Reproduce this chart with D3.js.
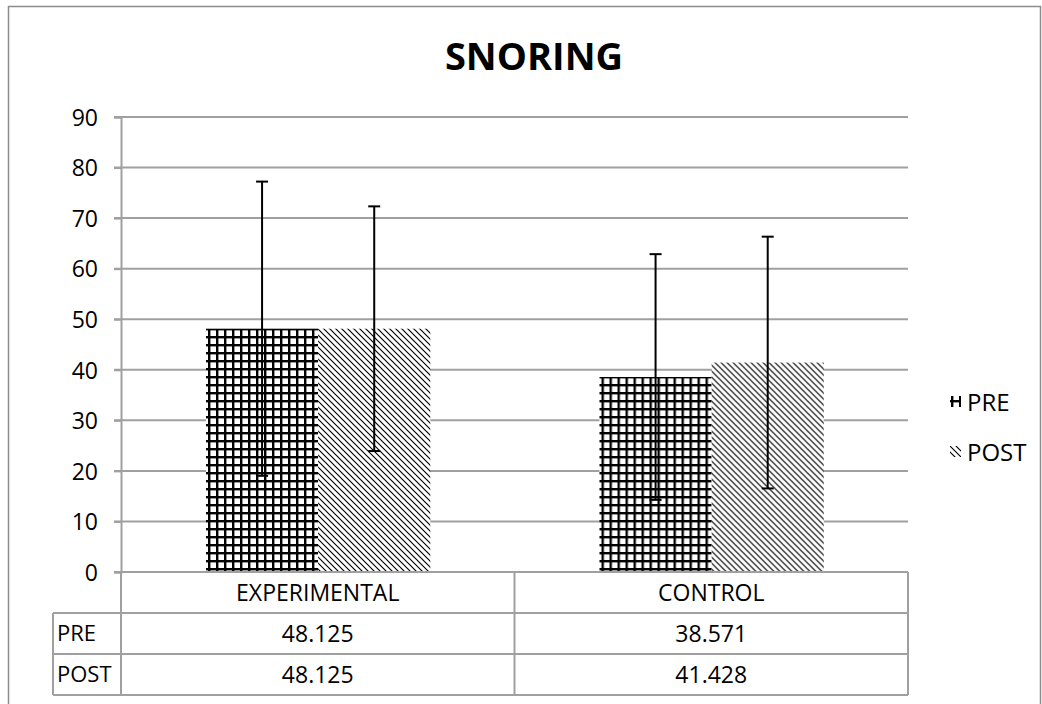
<!DOCTYPE html>
<html>
<head>
<meta charset="utf-8">
<script src="https://cdn.jsdelivr.net/npm/d3@7"></script>
<style>
  html, body { margin: 0; padding: 0; background: #fff; }
  svg { display: block; }
  text { font-family: "Open Sans", "Noto Sans", sans-serif; fill: #000; }
</style>
</head>
<body>
<div id="chart"></div>
<script>
// ---- data ----
const title = "SNORING";
const categories = ["EXPERIMENTAL", "CONTROL"];
const seriesNames = ["PRE", "POST"];
const preValues = [48.125, 38.571];
const postValues = [48.125, 41.428];
const preErrors = [29.1, 24.3];
const postErrors = [24.2, 24.9];
const yTicks = [0, 10, 20, 30, 40, 50, 60, 70, 80, 90];

const seriesValues = [preValues, postValues];
const seriesErrors = [preErrors, postErrors];

// ---- layout ----
const W = 1042, H = 704;
const plot = { left: 121, right: 908, top: 117, bottom: 572 };
const rowH = 41;

const svg = d3.select("#chart").append("svg").attr("width", W).attr("height", H);
const defs = svg.append("defs");

// grid pattern (PRE)
const pGrid = defs.append("pattern").attr("id", "pGrid")
  .attr("patternUnits", "userSpaceOnUse").attr("width", 8).attr("height", 8)
  .attr("x", 207).attr("y", 0);
pGrid.append("rect").attr("width", 8).attr("height", 8).attr("fill", "#fff");
pGrid.append("rect").attr("x", 0).attr("y", 0).attr("width", 2.4).attr("height", 8).attr("fill", "#000");
pGrid.append("rect").attr("x", 0).attr("y", 0).attr("width", 8).attr("height", 2.4).attr("fill", "#000");

// diagonal pattern (POST)
const pDiag = defs.append("pattern").attr("id", "pDiag")
  .attr("patternUnits", "userSpaceOnUse").attr("width", 6).attr("height", 6);
pDiag.append("rect").attr("width", 6).attr("height", 6).attr("fill", "#fff");
pDiag.append("path").attr("d", "M0,0 L6,6 M-1,5 L1,7 M5,-1 L7,1")
  .attr("stroke", "#000").attr("stroke-width", 1.15).attr("fill", "none");

// outer border
svg.append("rect").attr("x", 8.5).attr("y", 6.5).attr("width", 1032).attr("height", 720)
  .attr("fill", "none").attr("stroke", "#8c8c8c").attr("stroke-width", 1.5);

// title
svg.append("text").attr("x", 534).attr("y", 70).attr("text-anchor", "middle")
  .attr("font-size", 38).attr("font-weight", "bold").text(title);

// scales
const y = d3.scaleLinear().domain([0, 90]).range([plot.bottom, plot.top]);
const x0 = d3.scaleBand().domain(categories).range([plot.left, plot.right]).padding(0);
const x1 = d3.scaleBand().domain(seriesNames)
  .range([x0.bandwidth() * 0.216, x0.bandwidth() * 0.786]).padding(0);

// gridlines
svg.append("g").selectAll("line").data(yTicks.filter(d => d > 0)).join("line")
  .attr("x1", plot.left - 7).attr("x2", plot.right)
  .attr("y1", d => y(d)).attr("y2", d => y(d))
  .attr("stroke", "#a0a0a0").attr("stroke-width", 2);

// y axis
const yAxis = svg.append("g").attr("transform", `translate(${plot.left},0)`)
  .call(d3.axisLeft(y).tickValues(yTicks).tickSize(7).tickPadding(16));
yAxis.select(".domain").attr("stroke", "#a0a0a0").attr("stroke-width", 2);
yAxis.selectAll(".tick line").attr("stroke", "#a0a0a0").attr("stroke-width", 2);
yAxis.selectAll(".tick text").attr("font-size", 23).attr("font-family", "Open Sans, sans-serif")
  .attr("fill", "#000").attr("dy", "0.36em");

// bars
const groups = svg.append("g").selectAll("g").data(categories).join("g")
  .attr("transform", d => `translate(${x0(d)},0)`);
const barData = (c, ci) => seriesNames.map((s, si) => ({ s, si, v: seriesValues[si][ci], e: seriesErrors[si][ci] }));
groups.selectAll("rect").data((c, ci) => barData(c, ci)).join("rect")
  .attr("x", d => x1(d.s)).attr("width", x1.bandwidth())
  .attr("y", d => y(d.v)).attr("height", d => y(0) - y(d.v))
  .attr("fill", d => d.si === 0 ? "url(#pGrid)" : "url(#pDiag)");

// x axis baseline
svg.append("line").attr("x1", plot.left - 7).attr("x2", plot.right)
  .attr("y1", y(0)).attr("y2", y(0)).attr("stroke", "#a0a0a0").attr("stroke-width", 2);

// error bars
const eb = groups.selectAll("g.err").data((c, ci) => barData(c, ci)).join("g").attr("class", "err");
eb.append("line")
  .attr("x1", d => x1(d.s) + x1.bandwidth() / 2).attr("x2", d => x1(d.s) + x1.bandwidth() / 2)
  .attr("y1", d => y(d.v + d.e)).attr("y2", d => y(d.v - d.e))
  .attr("stroke", "#000").attr("stroke-width", 2);
[1, -1].forEach(sign => {
  eb.append("line")
    .attr("x1", d => x1(d.s) + x1.bandwidth() / 2 - 6).attr("x2", d => x1(d.s) + x1.bandwidth() / 2 + 6)
    .attr("y1", d => y(d.v + sign * d.e)).attr("y2", d => y(d.v + sign * d.e))
    .attr("stroke", "#000").attr("stroke-width", 2);
});

// data table
const tbl = svg.append("g");
const tableLeft = 53;
const tStroke = "#a0a0a0";
const rowTop0 = plot.bottom;
// category row
tbl.selectAll("text.cat").data(categories).join("text").attr("class", "cat")
  .attr("x", d => x0(d) + x0.bandwidth() / 2).attr("y", rowTop0 + rowH / 2)
  .attr("dy", "0.36em").attr("text-anchor", "middle").attr("font-size", 23).text(d => d);
// vertical lines of category row
tbl.selectAll("line.cv").data([plot.left, ...categories.map(c => x0(c) + x0.bandwidth())]).join("line")
  .attr("class", "cv").attr("x1", d => d).attr("x2", d => d)
  .attr("y1", rowTop0).attr("y2", rowTop0 + rowH * 3)
  .attr("stroke", tStroke).attr("stroke-width", 2);
// horizontal lines
[1, 2, 3].forEach(r => {
  tbl.append("line").attr("x1", tableLeft).attr("x2", plot.right)
    .attr("y1", rowTop0 + rowH * r).attr("y2", rowTop0 + rowH * r)
    .attr("stroke", tStroke).attr("stroke-width", 2);
});
tbl.append("line").attr("x1", tableLeft).attr("x2", tableLeft)
  .attr("y1", rowTop0 + rowH).attr("y2", rowTop0 + rowH * 3)
  .attr("stroke", tStroke).attr("stroke-width", 2);
// series rows
const fmt = d3.format(".3f");
seriesNames.forEach((s, si) => {
  const ty = rowTop0 + rowH * (si + 1) + rowH / 2;
  tbl.append("text").attr("x", tableLeft + 4).attr("y", ty).attr("dy", "0.36em")
    .attr("font-size", 22).text(s);
  tbl.selectAll(null).data(categories).join("text")
    .attr("x", d => x0(d) + x0.bandwidth() / 2).attr("y", ty).attr("dy", "0.36em")
    .attr("text-anchor", "middle").attr("font-size", 23)
    .text((d, ci) => fmt(seriesValues[si][ci]));
});

// legend
const legend = svg.append("g");
seriesNames.forEach((s, si) => {
  const ly = 402 + si * 50;
  legend.append("rect").attr("x", 950).attr("y", ly - 6).attr("width", 11).attr("height", 11)
    .attr("fill", si === 0 ? "url(#pGrid)" : "url(#pDiag)");
  legend.append("text").attr("x", 967).attr("y", ly).attr("dy", "0.36em")
    .attr("font-size", 24).text(s);
});
</script>
</body>
</html>
